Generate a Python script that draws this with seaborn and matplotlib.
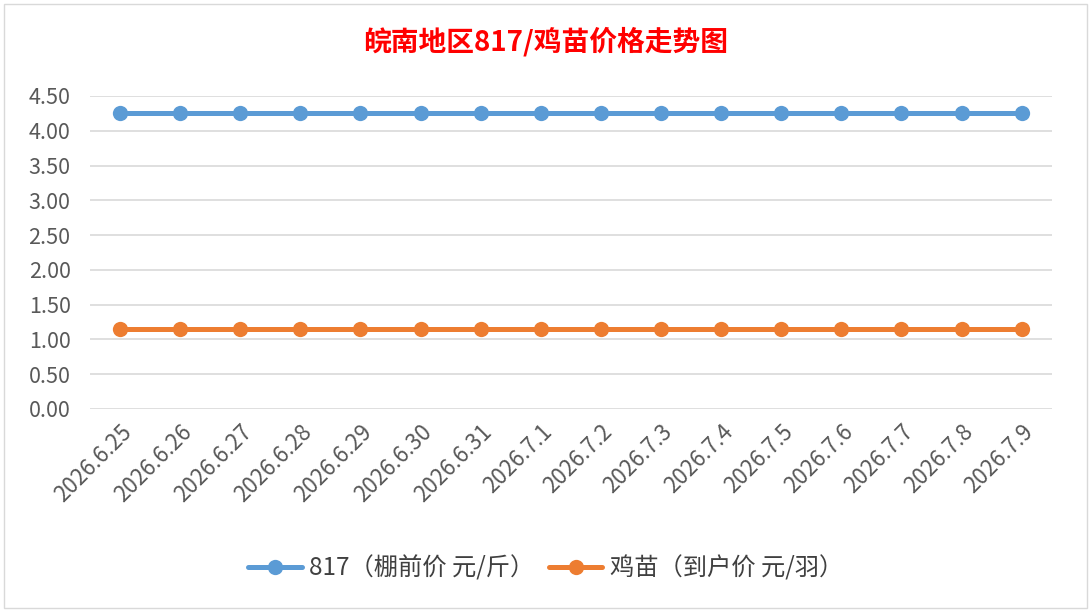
import pandas as pd
import numpy as np
import matplotlib.pyplot as plt
import seaborn as sns
from matplotlib.patches import Rectangle
from matplotlib.lines import Line2D

dates = ['2026.6.25', '2026.6.26', '2026.6.27', '2026.6.28', '2026.6.29', '2026.6.30',
         '2026.6.31', '2026.7.1', '2026.7.2', '2026.7.3', '2026.7.4', '2026.7.5',
         '2026.7.6', '2026.7.7', '2026.7.8', '2026.7.9']
price_817 = [4.25] * 16
price_chick = [1.15] * 16
series_names = ['817（棚前价 元/斤）', '鸡苗（到户价 元/羽）']
yticks = [0, 0.5, 1.0, 1.5, 2.0, 2.5, 3.0, 3.5, 4.0, 4.5]

df = pd.DataFrame({
    'date': dates * 2,
    'pos': list(range(len(dates))) * 2,
    'price': price_817 + price_chick,
    'series': [series_names[0]] * len(dates) + [series_names[1]] * len(dates),
})

sns.set_theme(style='white')
plt.rcParams['font.family'] = ['Noto Sans CJK SC', 'DejaVu Sans']

fig = plt.figure(figsize=(10.91, 6.15), dpi=100)
ax = fig.add_axes([0.0825, 0.335, 0.8815, 0.509])

sns.lineplot(data=df, x='pos', y='price', hue='series', ax=ax,
             palette=['#5B9BD5', '#ED7D31'], marker='o', markersize=11,
             markeredgewidth=0, linewidth=3.6, legend=False)

ax.set_xlim(-0.5, len(dates) - 0.5)
ax.set_ylim(0, 4.5)
ax.set_yticks(yticks)
ax.set_yticklabels([f'{v:.2f}' for v in yticks], fontsize=15.5, color='#595959')
ax.set_xticks(range(len(dates)))
ax.set_xticklabels(dates, rotation=45, ha='right', rotation_mode='anchor',
                   fontsize=16, color='#595959')
ax.tick_params(axis='both', length=0, pad=8)
ax.tick_params(axis='y', pad=14)
ax.grid(axis='y', color='#d9d9d9', linewidth=1.2)
ax.set_axisbelow(True)
for s in ax.spines.values():
    s.set_visible(False)
ax.set_xlabel('')
ax.set_ylabel('')

fig.text(0.5, 0.932, '皖南地区817/鸡苗价格走势图', ha='center', va='center',
         fontsize=20, color='#FF0000', fontweight='bold')

handles = [Line2D([], [], color=c, linewidth=3.6, marker='o', markersize=11, markeredgewidth=0)
           for c in ['#5B9BD5', '#ED7D31']]
fig.legend(handles, series_names, loc='center', bbox_to_anchor=(0.5, 0.076), ncol=2,
           frameon=False, fontsize=17.5, labelcolor='#404040', handlelength=2.2,
           handletextpad=0.3, columnspacing=0.6)

fig.patches.append(Rectangle((0.004, 0.012), 0.992, 0.982, transform=fig.transFigure,
                             fill=False, edgecolor='#d9d9d9', linewidth=1))

fig.savefig('out.png', dpi=100)
